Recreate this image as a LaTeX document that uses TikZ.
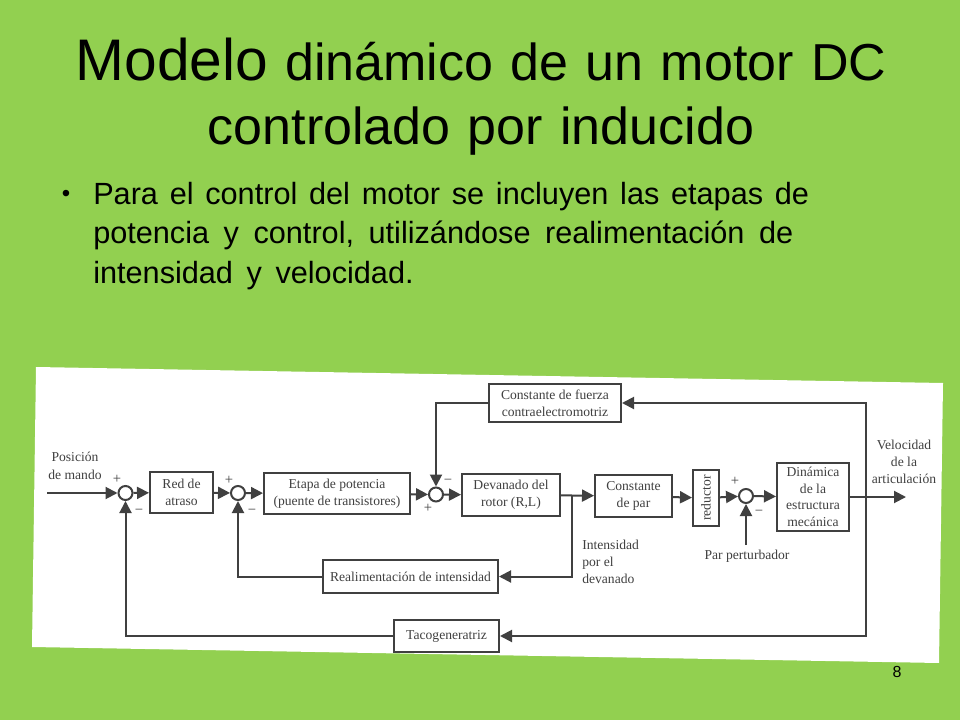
\documentclass[tikz,border=0pt]{standalone}
\usepackage{fontspec}
\setmainfont{Liberation Sans}
\newfontfamily\scanfont{Liberation Serif}
\usetikzlibrary{arrows.meta}
\definecolor{slidegreen}{HTML}{92D050}
\definecolor{scanink}{HTML}{404040}
\def\px{0.75pt}
\tikzset{
  blk/.style={draw=scanink, line width=1.5pt, fill=white, inner sep=0pt, align=center, text=scanink, font=\scanfont\fontsize{10.2}{12.5}\selectfont},
  sumc/.style={circle, draw=scanink, line width=1.5pt, fill=white, inner sep=0pt, minimum size=14*\px},
  lbl/.style={text=scanink, inner sep=0pt, font=\scanfont\fontsize{10.2}{13}\selectfont},
  sgn/.style={text=scanink, inner sep=0pt, font=\scanfont\fontsize{11}{11}\selectfont},
  conn/.style={draw=scanink, line width=1.5pt, -{Triangle[length=9pt,width=9pt]}},
  wire/.style={draw=scanink, line width=1.5pt}
}
\begin{document}
\begin{tikzpicture}[x=0.75pt,y=-0.75pt]
\fill[slidegreen] (0,0) rectangle (960,720);
\useasboundingbox (0,0) rectangle (960,720);
\fill[white] (36,367) -- (943,383) -- (939,663) -- (32,647) -- cycle;
% slide text
\node[align=center, inner sep=0pt, font=\fontsize{39}{48}\selectfont] (title) at (481,97)
  {\spaceskip=13pt{\fontsize{44}{48}\selectfont Modelo} dinámico de un motor DC\\\spaceskip=13pt controlado por inducido};
\node[inner sep=0pt, font=\fontsize{18}{18}\selectfont] (dot) at (66,196) {•};
\node[anchor=north west, align=left, inner sep=0pt, font=\fontsize{23}{29.6}\selectfont] (body) at (93,182)
  {\spaceskip=8.8pt Para el control del motor se incluyen las etapas de\\\spaceskip=10.9pt potencia y control, utilizándose realimentación de\\\spaceskip=10.2pt intensidad y velocidad.};
\node[inner sep=0pt, font=\fontsize{12}{12}\selectfont] (pagenum) at (897,672) {8};
% blocks
\node[blk, minimum width=63*\px, minimum height=41*\px] (red) at (181.5,492.5) {Red de\\atraso};
\node[blk, minimum width=146*\px, minimum height=41*\px] (etapa) at (337,493.5) {Etapa de potencia\\(puente de transistores)};
\node[blk, minimum width=98*\px, minimum height=42*\px] (devanado) at (511,495) {Devanado del\\rotor (R,L)};
\node[blk, minimum width=77*\px, minimum height=42*\px] (par) at (633.5,496) {Constante\\de par};
\node[blk, minimum width=26*\px, minimum height=56*\px] (reductor) at (706,498) {\rotatebox{90}{reductor}};
\node[blk, minimum width=72*\px, minimum height=68*\px] (dinamica) at (813,497) {Dinámica\\de la\\estructura\\mecánica};
\node[blk, minimum width=132*\px, minimum height=38*\px] (fuerza) at (555,403) {Constante de fuerza\\contraelectromotriz};
\node[blk, minimum width=175*\px, minimum height=33*\px] (realim) at (410.5,576.5) {Realimentación de intensidad};
\node[blk, minimum width=105*\px, minimum height=32*\px] (taco) at (446.5,636) {Tacogeneratriz};
% summing points
\node[sumc] (s1) at (125.5,493) {};
\node[sumc] (s2) at (238,493) {};
\node[sumc] (s3) at (436,494.5) {};
\node[sumc] (s4) at (746,496) {};
% free ends and corners
\coordinate (entrada) at (47,493);
\coordinate (salida) at (906,497);
\coordinate (nudovel) at (866,497);
\coordinate (nudoint) at (572,495.6);
\coordinate (parin) at (746,545);
% forward path
\draw[conn] (entrada) -- (s1);
\draw[conn] (s1) -- (red);
\draw[conn] (red) -- (s2);
\draw[conn] (s2) -- (etapa);
\draw[conn] (etapa) -- (s3);
\draw[conn] (s3) -- (devanado);
\draw[conn] (devanado) -- (par);
\draw[conn] (par) -- (reductor);
\draw[conn] (reductor) -- (s4);
\draw[conn] (s4) -- (dinamica);
\draw[conn] (dinamica) -- (salida);
\draw[conn] (parin) -- (s4);
% feedback paths
\draw[conn] (nudovel) |- (fuerza);
\draw[conn] (fuerza) -| (s3);
\draw[conn] (nudovel) |- (taco);
\draw[conn] (taco) -| (s1);
\draw[conn] (nudoint) |- (realim);
\draw[conn] (realim) -| (s2);
% labels
\node[lbl, align=center] (posicion) at (75,466) {Posición\\de mando};
\node[lbl, align=center] (velocidad) at (904,462) {Velocidad\\de la\\articulación};
\node[lbl, align=left, anchor=west] (intensidad) at (582,562) {Intensidad\\por el\\devanado};
\node[lbl] (perturbador) at (747,556) {Par perturbador};
% signs
\node[sgn] (m1) at (117,479) {+};
\node[sgn] (m2) at (139,512) {−};
\node[sgn] (m3) at (229,480) {+};
\node[sgn] (m4) at (252,512) {−};
\node[sgn] (m5) at (448,482) {−};
\node[sgn] (m6) at (428,508) {+};
\node[sgn] (m7) at (735,481) {+};
\node[sgn] (m8) at (759,513) {−};
\end{tikzpicture}
\end{document}
